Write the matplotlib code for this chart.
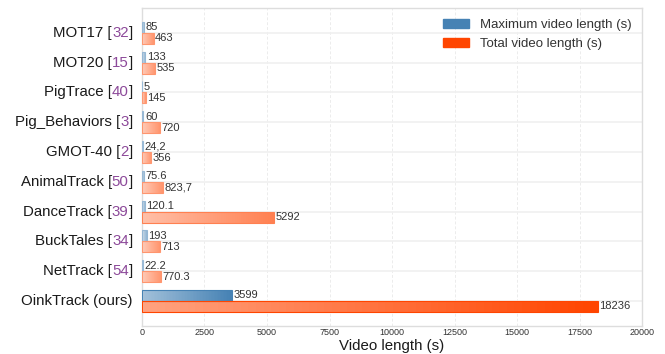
import numpy as np
import matplotlib
matplotlib.use('Agg')
import matplotlib.pyplot as plt
from matplotlib.colors import to_rgb
from matplotlib.patches import Patch

plt.rcParams['font.family'] = ['Liberation Sans', 'DejaVu Sans']

datasets = ['MOT17', 'MOT20', 'PigTrace', 'Pig_Behaviors', 'GMOT-40',
            'AnimalTrack', 'DanceTrack', 'BuckTales', 'NetTrack', 'OinkTrack']
refs = ['32', '15', '40', '3', '2', '50', '39', '34', '54', None]
max_len = [85, 133, 5, 60, 24.2, 75.6, 120.1, 193, 22.2, 3599]
max_txt = ['85', '133', '5', '60', '24,2', '75.6', '120.1', '193', '22.2', '3599']
total_len = [463, 535, 145, 720, 356, 823.7, 5292, 713, 770.3, 18236]
total_txt = ['463', '535', '145', '720', '356', '823,7', '5292', '713', '770.3', '18236']

BLUE = 'steelblue'
ORANGE = 'orangered'
PURPLE = '#8d4a9a'
TEXT = '#333333'
H = 0.37
NSEG = 60


def gradient_bar(ax, y0, v, vmax, color):
    # split the bar into thin slices whose shade goes from light (left)
    # to stronger (right); longer bars end at a stronger shade
    hi = 0.55 + 0.45 * v / vmax
    lo = hi * 0.5
    rgb = np.array(to_rgb(color))
    edges = np.linspace(0, v, NSEG + 1)
    alphas = np.linspace(lo, hi, NSEG)
    cols = [tuple(1 - a * (1 - rgb)) for a in alphas]
    ax.barh(np.full(NSEG, y0), np.diff(edges) * 1.02, left=edges[:-1], height=H,
            align='edge', color=cols, linewidth=0, zorder=2)
    ax.barh(y0, v, height=H, align='edge', fill=False,
            edgecolor=tuple(1 - hi * (1 - rgb)), linewidth=0.8, zorder=3)


fig = plt.figure(figsize=(6.65, 3.54), dpi=100)
ax = fig.add_axes([0.2135, 0.080, 0.752, 0.897])

ypos = np.arange(len(datasets))
bmax = max(max_len)
omax = max(total_len)
for i, y in enumerate(ypos):
    gradient_bar(ax, y - H, max_len[i], bmax, BLUE)
    gradient_bar(ax, y, total_len[i], omax, ORANGE)
    ax.text(max_len[i] + 60, y - H / 2, max_txt[i], va='center', ha='left',
            fontsize=8, color=TEXT, zorder=4)
    ax.text(total_len[i] + 60, y + H / 2, total_txt[i], va='center', ha='left',
            fontsize=8, color=TEXT, zorder=4)

ax.set_xlim(0, 20000)
ax.set_ylim(len(datasets) - 1 + 0.83, -0.83)
ax.set_xticks(np.arange(0, 20001, 2500))
ax.set_yticks(ypos)
ax.set_yticklabels([])
ax.tick_params(axis='both', length=0)
ax.tick_params(axis='x', labelsize=6.5, labelcolor=TEXT, pad=2)

ax.grid(axis='x', color='#ececec', linestyle=(0, (3, 2)), linewidth=0.7, zorder=0)
ax.grid(axis='y', color='#f0f0f0', linestyle='-', linewidth=1.2, zorder=0)
ax.set_axisbelow(True)
for s in ax.spines.values():
    s.set_color('#dddddd')
    s.set_linewidth(1.0)

# dataset names with the reference number in purple
FS = 10.8
for i, y in enumerate(ypos):
    if refs[i] is None:
        ax.annotate(datasets[i] + ' (ours)', xy=(0, y), xycoords=('axes fraction', 'data'),
                    xytext=(-6.5, 0), textcoords='offset points',
                    ha='right', va='center', fontsize=FS, color='#1a1a1a')
        continue
    t1 = ax.annotate(']', xy=(0, y), xycoords=('axes fraction', 'data'),
                     xytext=(-6.5, 0), textcoords='offset points',
                     ha='right', va='center', fontsize=FS, color='#1a1a1a')
    t2 = ax.annotate(refs[i], xy=(0, 0.5), xycoords=t1, ha='right', va='center',
                     fontsize=FS, color=PURPLE)
    ax.annotate(datasets[i] + ' [', xy=(0, 0.5), xycoords=t2, ha='right', va='center',
                fontsize=FS, color='#1a1a1a')

ax.set_xlabel('Video length (s)', fontsize=10.8, color='#1a1a1a', labelpad=1)

handles = [Patch(color=BLUE, label='Maximum video length (s)'),
           Patch(color=ORANGE, label='Total video length (s)')]
ax.legend(handles=handles, loc='upper right', frameon=False, fontsize=9.5,
          labelcolor=TEXT, handlelength=2.0, handleheight=0.7,
          borderaxespad=0.4, labelspacing=0.5)

fig.savefig('out.png', dpi=100)
